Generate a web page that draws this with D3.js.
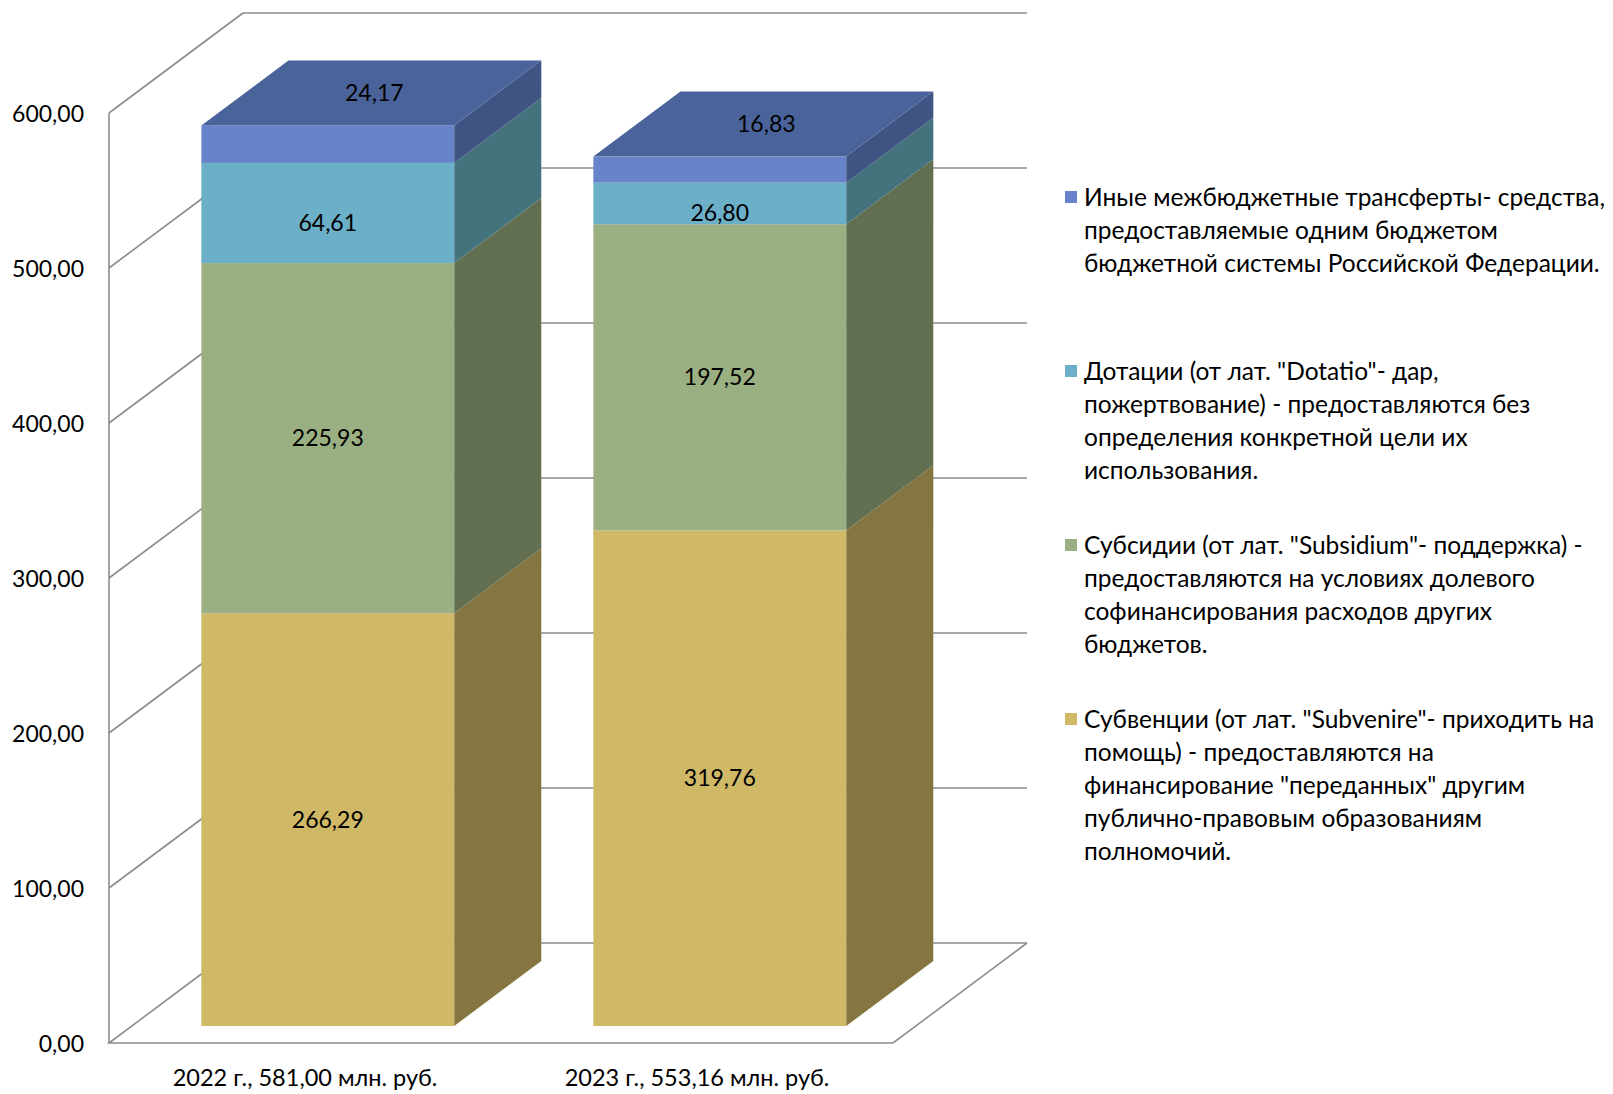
<!DOCTYPE html>
<html>
<head>
<meta charset="utf-8">
<script src="https://cdn.jsdelivr.net/npm/d3@7"></script>
<style>
  html, body { margin: 0; padding: 0; background: #ffffff; }
  svg { display: block; }
</style>
</head>
<body>
<svg id="chart" width="1613" height="1094"></svg>
<script>
// ---------- data ----------
const categories = ["2022 г., 581,00 млн. руб.", "2023 г., 553,16 млн. руб."];
// stacked bottom -> top
const subventions = [266.29, 319.76];     // Субвенции
const subsidies = [225.93, 197.52];       // Субсидии
const dotations = [64.61, 26.80];         // Дотации
const otherTransfers = [24.17, 16.83];    // Иные межбюджетные трансферты
const yTicks = [0, 100, 200, 300, 400, 500, 600];

const legendSubventions = ["Субвенции (от лат. \"Subvenire\"- приходить на", "помощь) - предоставляются на", "финансирование \"переданных\" другим", "публично-правовым образованиям", "полномочий."];
const legendSubsidies = ["Субсидии (от лат. \"Subsidium\"- поддержка) -", "предоставляются на условиях долевого", "софинансирования расходов других", "бюджетов."];
const legendDotations = ["Дотации (от лат. \"Dotatio\"- дар,", "пожертвование) - предоставляются без", "определения конкретной цели их", "использования."];
const legendOther = ["Иные межбюджетные трансферты- средства,", "предоставляемые одним бюджетом", "бюджетной системы Российской Федерации."];

// ---------- styles ----------
const FONT = "Lato, 'Open Sans', sans-serif";
const series = [
  { key: "subv", values: subventions, legend: legendSubventions, front: "#CFB866", side: "#857641", top: "#A9964F", labelDy: 0 },
  { key: "subs", values: subsidies, legend: legendSubsidies, front: "#9BB082", side: "#626F51", top: "#7E906A", labelDy: 0 },
  { key: "dot", values: dotations, legend: legendDotations, front: "#6BAFC9", side: "#44737D", top: "#528FA3", labelDy: 10 },
  { key: "oth", values: otherTransfers, legend: legendOther, front: "#6783CA", side: "#3F5482", top: "#4A649B", labelDy: 0 }
];

const svg = d3.select("#chart");

// front plane of the floor
const xLeft = 109, xRight = 893, yFloor = 1043, yTopVal = 113;
const DX = 134, DY = 100;           // full depth offset
const d0 = 0.17, d1 = 0.82;         // bar depth extent (fraction)
const barFrac = 0.645;

const y = d3.scaleLinear().domain([0, 600]).range([yFloor, yTopVal]);
const x = d3.scaleBand().domain(categories).range([xLeft, xRight]).padding(0);

const loc = d3.formatLocale({ decimal: ",", thousands: " ", grouping: [3] });
const fmt = loc.format(".2f");

const gridColor = "#8C8C8C";
const gGrid = svg.append("g").attr("fill", "none").attr("stroke", gridColor).attr("stroke-width", 1.6);

// left wall diagonal gridlines + back wall horizontals
yTicks.forEach(t => {
  const yf = y(t);
  if (t > 0) {
    gGrid.append("line").attr("x1", xLeft).attr("y1", yf).attr("x2", xLeft + DX).attr("y2", yf - DY);
  }
  gGrid.append("line").attr("x1", xLeft + DX).attr("y1", yf - DY).attr("x2", xRight + DX).attr("y2", yf - DY);
});
// left vertical edge
gGrid.append("line").attr("x1", xLeft).attr("y1", y(600)).attr("x2", xLeft).attr("y2", y(0));
// floor
gGrid.append("path").attr("d",
  `M${xLeft + DX},${y(0) - DY} L${xLeft},${y(0)} L${xRight},${y(0)} L${xRight + DX},${y(0) - DY}`);

// y axis labels
const yAxis = d3.axisLeft(y).tickValues(yTicks).tickFormat(fmt).tickSize(0).tickPadding(0);
const gy = svg.append("g").attr("transform", `translate(${84},0)`).call(yAxis);
gy.select(".domain").remove();
gy.selectAll("text").attr("font-family", FONT).attr("font-size", 23).attr("fill", "#000").attr("dy", "0.35em");

// x axis labels
const xAxis = d3.axisBottom(x).tickSize(0).tickPadding(0);
const gx = svg.append("g").attr("transform", `translate(0,${1078})`).call(xAxis);
gx.select(".domain").remove();
gx.selectAll("text").attr("font-family", FONT).attr("font-size", 23.5).attr("fill", "#000").attr("dy", "0.35em");

// stacked data
const stack = d3.stack().keys(series.map(s => s.key))
  .value((d, k) => series.find(s => s.key === k).values[d]);
const stacked = stack(categories.map((c, i) => i));

const bdx = (d1 - d0) * DX, bdy = (d1 - d0) * DY;
const gBars = svg.append("g");
const gLabels = svg.append("g").attr("font-family", FONT).attr("font-size", 23).attr("fill", "#000");

categories.forEach((cat, ci) => {
  const bw = x.bandwidth() * barFrac;
  const cx = x(cat) + x.bandwidth() / 2 + d0 * DX;
  const xl = cx - bw / 2, xr = cx + bw / 2;
  const off = d0 * DY;
  const g = gBars.append("g");
  stacked.forEach((layer, si) => {
    const s = series[si];
    const v0 = layer[ci][0], v1 = layer[ci][1];
    const yb = y(v0) - off, yt = y(v1) - off;
    // side face
    g.append("path").attr("fill", s.side)
      .attr("d", `M${xr},${yb} L${xr},${yt} L${xr + bdx},${yt - bdy} L${xr + bdx},${yb - bdy} Z`);
    // front face
    g.append("rect").attr("fill", s.front)
      .attr("x", xl).attr("y", yt).attr("width", bw).attr("height", yb - yt);
    const isTop = si === stacked.length - 1;
    if (isTop) {
      g.append("path").attr("fill", s.top)
        .attr("d", `M${xl},${yt} L${xr},${yt} L${xr + bdx},${yt - bdy} L${xl + bdx},${yt - bdy} Z`);
      gLabels.append("text").attr("x", cx + bdx / 2 + 3).attr("y", yt - bdy / 2)
        .attr("text-anchor", "middle").attr("dy", "0.35em")
        .text(fmt(s.values[ci]));
    } else {
      gLabels.append("text").attr("x", cx).attr("y", (yb + yt) / 2 + s.labelDy)
        .attr("text-anchor", "middle").attr("dy", "0.35em")
        .text(fmt(s.values[ci]));
    }
  });
});

// legend (top to bottom: reverse of stacking)
const legendX = 1084, legendY0 = 197, entryStep = 174, lineH = 33;
const gLeg = svg.append("g").attr("font-family", FONT).attr("font-size", 24.5).attr("fill", "#000");
series.slice().reverse().forEach((s, i) => {
  const yStart = legendY0 + i * entryStep;
  gLeg.append("rect").attr("x", legendX - 19).attr("y", yStart - 6).attr("width", 12).attr("height", 12).attr("fill", s.front);
  s.legend.forEach((line, li) => {
    gLeg.append("text").attr("x", legendX).attr("y", yStart + li * lineH)
      .attr("dy", "0.35em")
      .text(line);
  });
});
</script>
</body>
</html>
